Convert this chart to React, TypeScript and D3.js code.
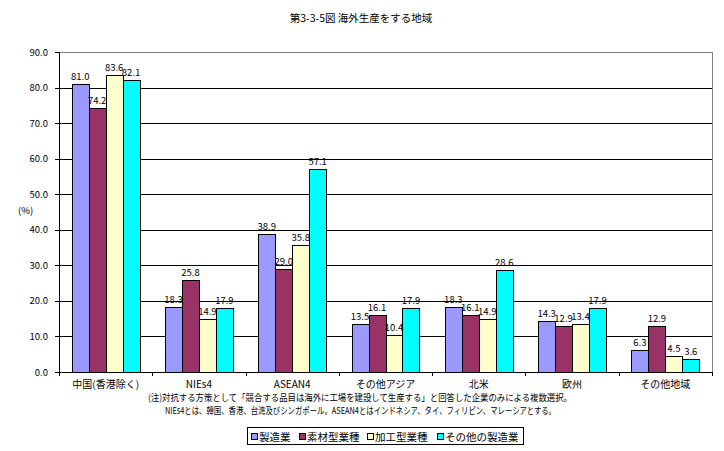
import React from "react";
import * as d3 from "d3";

const title = "第3-3-5図  海外生産をする地域";
const categories = ["中国(香港除く)", "NIEs4", "ASEAN4", "その他アジア", "北米", "欧州", "その他地域"];
const seriesNames = ["製造業", "素材型業種", "加工型業種", "その他の製造業"];
const seriesColors = ["#9999FF", "#993366", "#FFFFCC", "#00FFFF"];
const manufacturing = [81.0, 18.3, 38.9, 13.5, 18.3, 14.3, 6.3];
const materials = [74.2, 25.8, 29.0, 16.1, 16.1, 12.9, 12.9];
const processing = [83.6, 14.9, 35.8, 10.4, 14.9, 13.4, 4.5];
const otherMfg = [82.1, 17.9, 57.1, 17.9, 28.6, 17.9, 3.6];
const yTicks = [0, 10, 20, 30, 40, 50, 60, 70, 80, 90];
const note1 = "(注)対抗する方策として「競合する品目は海外に工場を建設して生産する」と回答した企業のみによる複数選択。";
const note2 = "NIEs4とは、韓国、香港、台湾及びシンガポール。ASEAN4とはインドネシア、タイ、フィリピン、マレーシアとする。";

const series = [manufacturing, materials, processing, otherMfg];
const FONT = "'Noto Sans CJK JP', 'Noto Sans', sans-serif";

export default function App() {
  const W = 724, H = 451;
  const left = 59, right = 712, top = 52, bottom = 372;
  const x = d3.scaleBand<string>().domain(categories).range([left, right]).paddingInner(0).paddingOuter(0);
  const inner = d3.scaleBand<number>().domain(d3.range(series.length)).range([0, x.bandwidth()]).paddingInner(0).paddingOuter(0.75);
  const y = d3.scaleLinear().domain([0, 90]).range([bottom, top]);

  const legendX = 247, legendY = 427, legendW = 276, legendH = 17;
  const legendItems = [{ x: 4 }, { x: 52 }, { x: 120 }, { x: 190 }];

  return (
    <svg width={W} height={H} style={{ position: "absolute", left: 0, top: 0, background: "#fff" }} fontFamily={FONT}>
      <rect x={0} y={0} width={W} height={H} fill="#fff" />
      <text x={361} y={22} textAnchor="middle" fontSize={10.5}>{title}</text>
      <rect x={left + 0.5} y={top + 0.5} width={right - left} height={bottom - top} fill="none" stroke="#808080" strokeWidth={1} />
      {yTicks.filter(t => t > 0 && t < 90).map(t => (
        <line key={t} x1={left} x2={right} y1={Math.round(y(t)) + 0.5} y2={Math.round(y(t)) + 0.5} stroke="#000" />
      ))}
      {yTicks.map(t => (
        <g key={"t" + t}>
          <line x1={left - 4} x2={left} y1={Math.round(y(t)) + 0.5} y2={Math.round(y(t)) + 0.5} stroke="#000" />
          <text x={48} y={y(t) + 3.5} textAnchor="end" fontSize={9.5}>{t.toFixed(1)}</text>
        </g>
      ))}
      <text x={18} y={214} fontSize={9.5}>(%)</text>
      {categories.map((c, ci) => (
        <g key={c}>
          {series.map((s, si) => (
            <rect key={si}
              x={Math.round((x(c) as number) + (inner(si) as number)) + 0.5}
              y={Math.round(y(s[ci])) + 0.5}
              width={Math.round(inner.bandwidth())}
              height={Math.round(bottom - y(s[ci]))}
              fill={seriesColors[si]} stroke="#000" strokeWidth={1} />
          ))}
        </g>
      ))}
      <line x1={left + 0.5} x2={left + 0.5} y1={top} y2={bottom + 4} stroke="#000" />
      <line x1={left} x2={right} y1={bottom + 0.5} y2={bottom + 0.5} stroke="#000" />
      {categories.map((c, ci) => (
        <line key={"xt" + ci} x1={Math.round((x(c) as number) + x.bandwidth()) + 0.5} x2={Math.round((x(c) as number) + x.bandwidth()) + 0.5}
          y1={bottom} y2={bottom + 4} stroke="#000" />
      ))}
      {categories.map((c, ci) => (
        <g key={"l" + c}>
          {series.map((s, si) => (
            <text key={si}
              x={(x(c) as number) + (inner(si) as number) + inner.bandwidth() / 2}
              y={y(s[ci]) - 4}
              textAnchor="middle" fontSize={9.5}>{s[ci].toFixed(1)}</text>
          ))}
        </g>
      ))}
      {categories.map(c => (
        <text key={"c" + c} x={(x(c) as number) + x.bandwidth() / 2} y={388} textAnchor="middle" fontSize={10}>{c}</text>
      ))}
      <text x={148} y={401} fontSize={9.5} textLength={424} lengthAdjust="spacingAndGlyphs">{note1}</text>
      <text x={165} y={414} fontSize={9.5} textLength={391} lengthAdjust="spacingAndGlyphs">{note2}</text>
      <rect x={legendX + 0.5} y={legendY + 0.5} width={legendW} height={legendH} fill="#fff" stroke="#000" />
      {seriesNames.map((n, i) => (
        <g key={n} transform={`translate(${legendX + legendItems[i].x},${legendY})`}>
          <rect x={0.5} y={6.5} width={6} height={6} fill={seriesColors[i]} stroke="#000" />
          <text x={8} y={13.5} fontSize={10.5}>{n}</text>
        </g>
      ))}
    </svg>
  );
}
